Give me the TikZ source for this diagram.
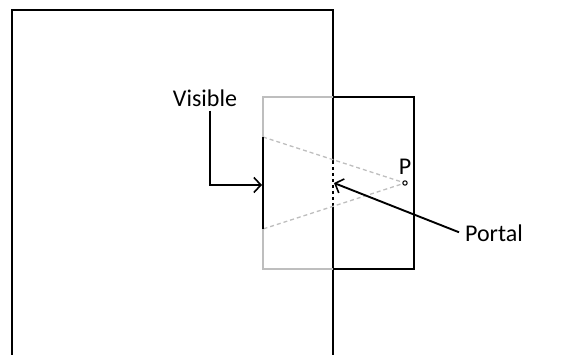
\documentclass[tikz,border=0pt]{standalone}
\usepackage{fontspec}
\setmainfont{Carlito}
\usetikzlibrary{arrows.meta}
\definecolor{lightgrey}{RGB}{190,190,190}

\begin{document}
\begin{tikzpicture}[x=1pt, y=-1pt, line width=1.9pt,
    font=\fontsize{24}{28}\selectfont,
    pointer/.style={-{Straight Barb[length=7pt,width=15pt,line width=1.6pt]}}]
    \useasboundingbox (0,0) rectangle (563,355);

    % Big cell
    \draw (12,355) -- (12,10) -- (333,10) -- (333,161);
    \draw (333,207) -- (333,355);

    % Portal opening
    \draw[dashed, dash pattern=on 3pt off 3pt] (333,161) -- (333,207);

    % Small cell, part seen through the portal
    \draw[lightgrey] (333,97) -- (263,97) -- (263,269) -- (333,269);
    \draw (333,97) -- (414,97) -- (414,269) -- (333,269);

    % Viewpoint
    \coordinate (P) at (405,183);
    \node (plabel) at (405,167) {P};

    % View cone
    \coordinate (vtop) at (263,137);
    \coordinate (vbot) at (263,229);
    \draw[lightgrey, line width=1.3pt, dash pattern=on 4pt off 3pt] (vtop) -- (P) -- (vbot);
    \draw[fill=white, line width=1pt] (P) circle (2.2pt);

    % Visible part of the wall
    \draw (vtop) -- (vbot);

    % Labels
    \node (visible) at (205,98) {Visible};
    \node (portal) at (494,233) {Portal};
    \coordinate (vmid) at (262,185);
    \coordinate (pmid) at (334,183);

    % Pointers
    \draw[pointer] ([xshift=5pt]visible.south) |- (vmid);
    \draw[pointer, shorten <=2pt] (portal.west) -- (pmid);

\end{tikzpicture}
\end{document}
